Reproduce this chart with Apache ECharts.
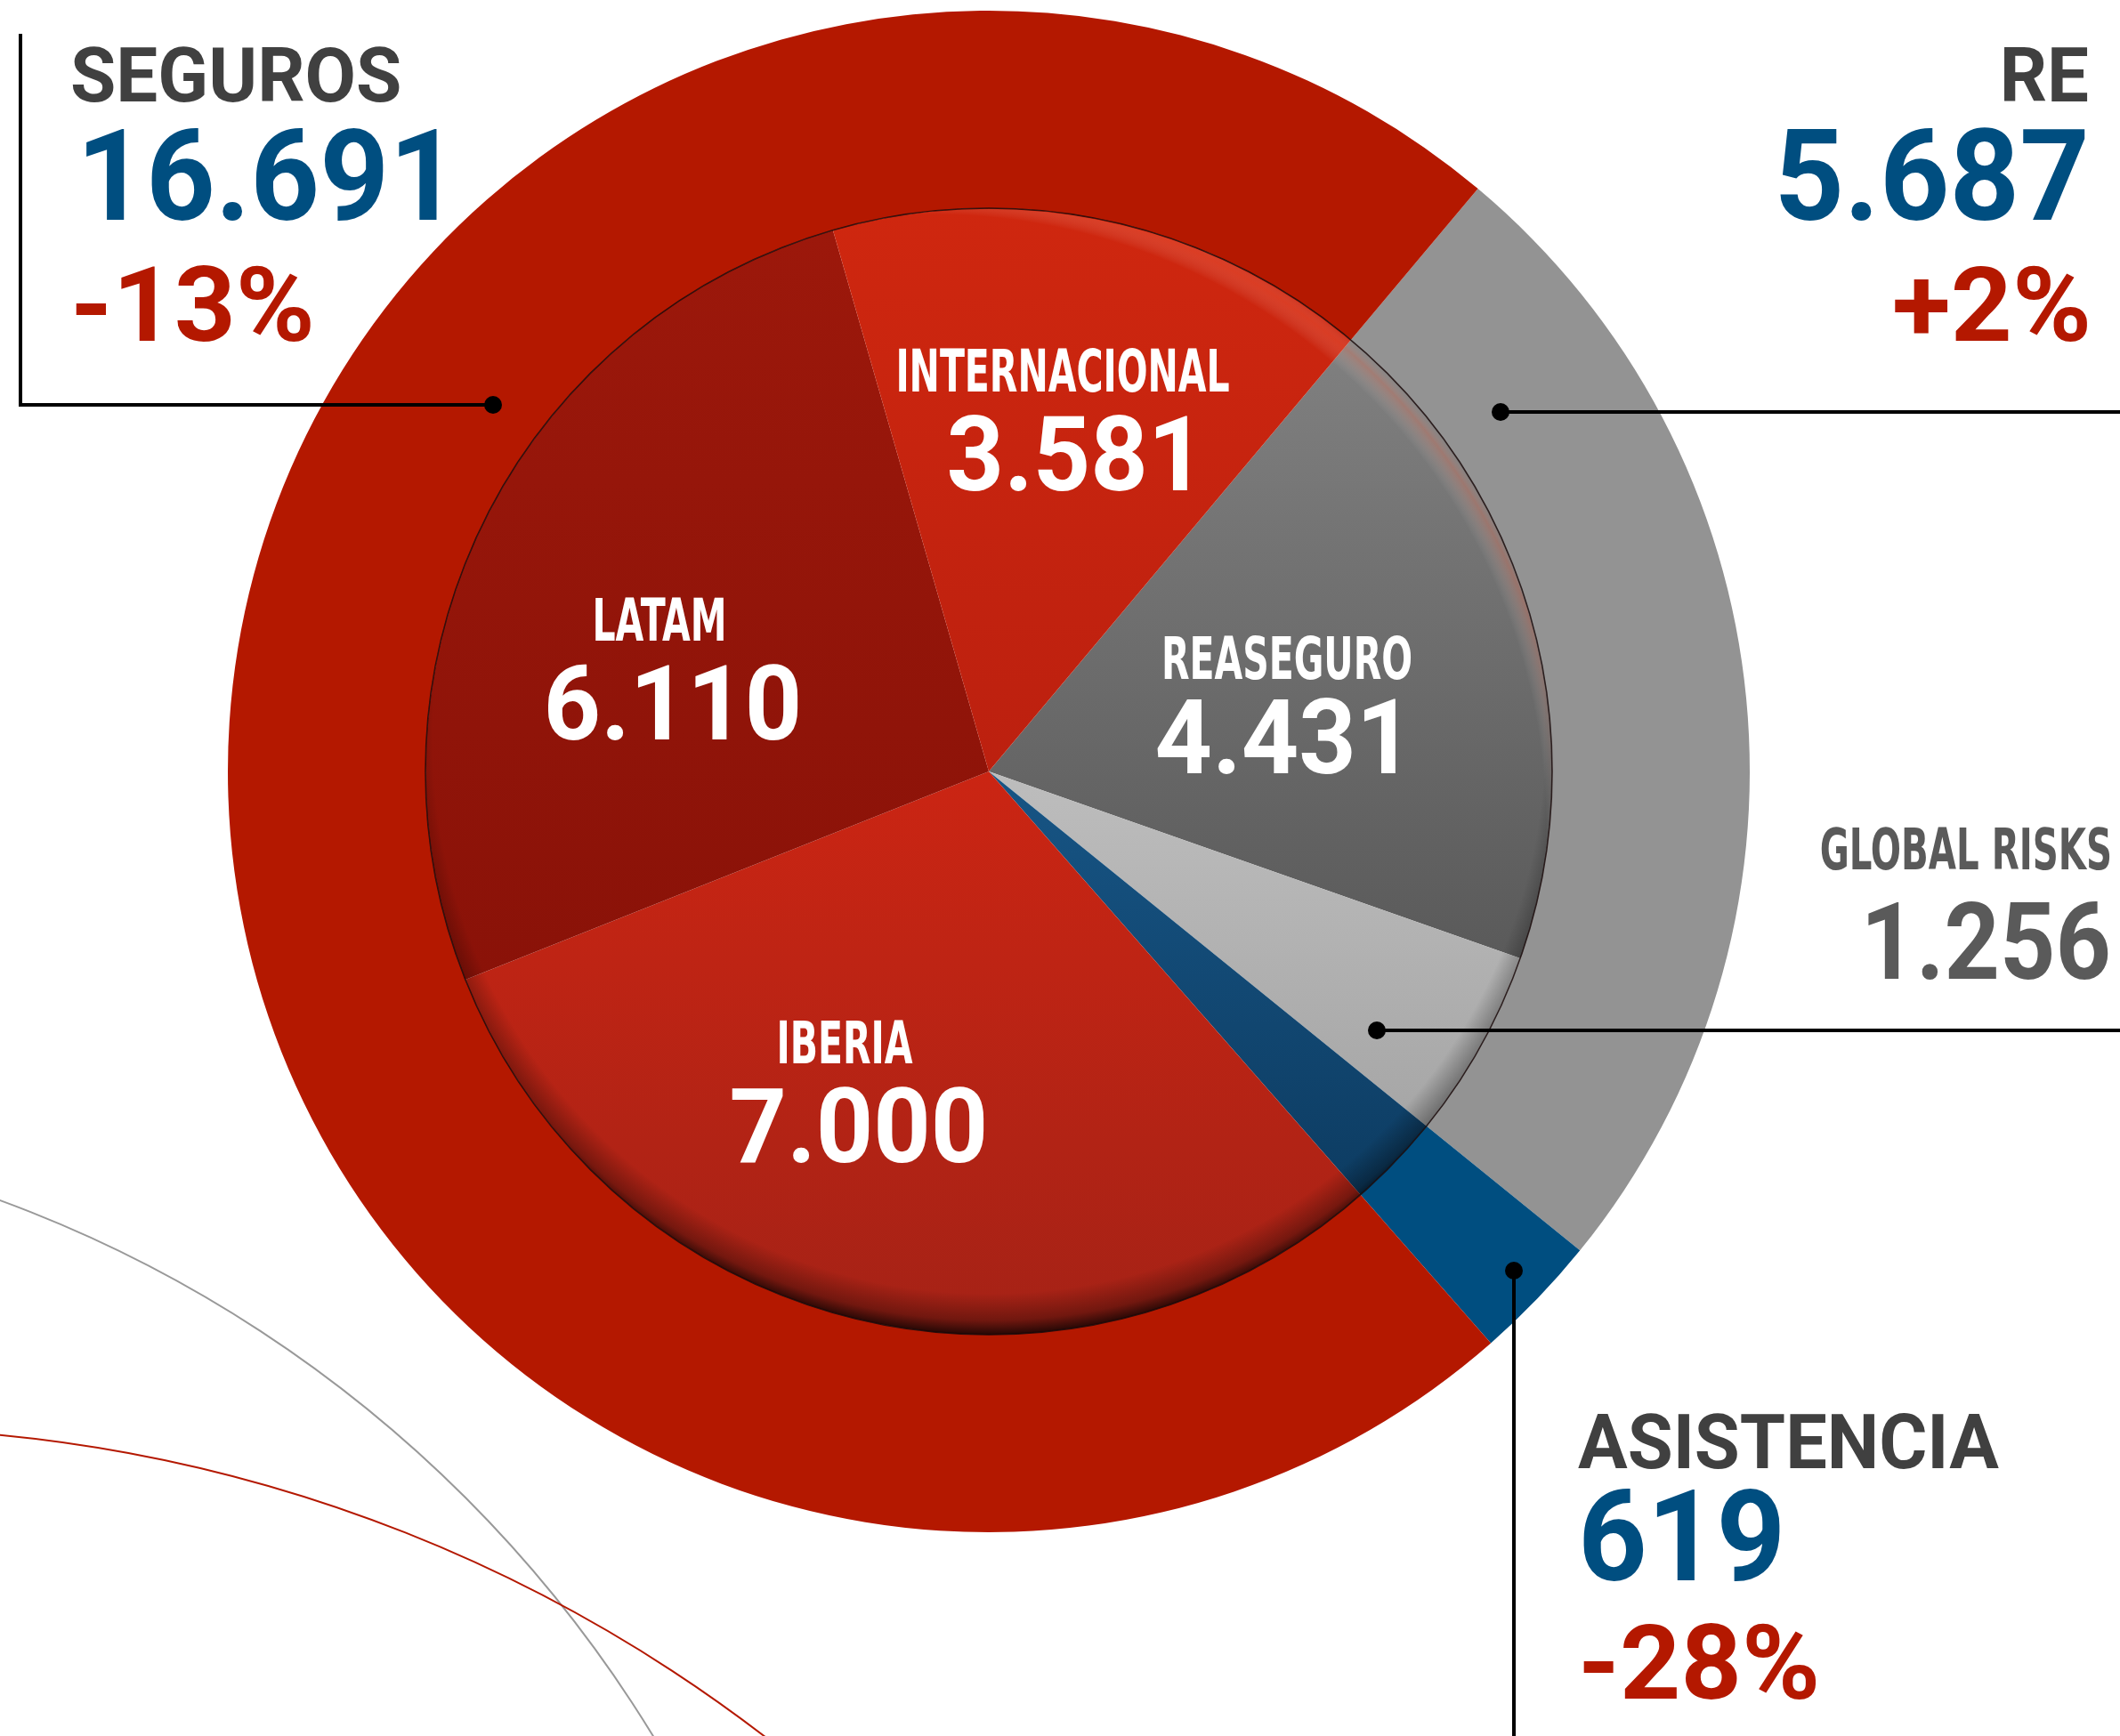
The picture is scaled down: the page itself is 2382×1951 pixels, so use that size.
<!DOCTYPE html>
<html>
<head>
<meta charset="utf-8">
<script src="https://cdn.jsdelivr.net/npm/echarts@6/dist/echarts.min.js"></script>
<style>
  html, body { margin: 0; padding: 0; background: #fff; }
  #chart { width: 2382px; height: 1951px; }
</style>
</head>
<body>
<div id="chart"></div>
<script>
// outer ring: business units (clockwise from RE)
var unitNames = ['RE', 'ASISTENCIA', 'SEGUROS'];
var unitValues = [5687, 619, 16691];
var unitChange = ['+2%', '-28%', '-13%'];

// inner pie: regions (clockwise from REASEGURO)
var regionNames = ['REASEGURO', 'GLOBAL RISKS', 'ASISTENCIA', 'IBERIA', 'LATAM', 'INTERNACIONAL'];
var regionValues = [4431, 1256, 619, 7000, 6110, 3581];

function fmt(v) {
  return String(v).replace(/\B(?=(\d{3})+(?!\d))/g, '.');
}

var CX = 1111, CY = 867;
var R_IN = 633, R_OUT = 855;
var DIN = 'Roboto, "DejaVu Sans", sans-serif';
var DINC = '"DejaVu Sans Condensed", "DejaVu Sans", sans-serif';

var RED = '#b41800', GREY = '#939393', BLUE = '#004e80', DARK = '#404040';

function lin(a, b) {
  return new echarts.graphic.LinearGradient(0, 0, 0, 1, [
    { offset: 0, color: a }, { offset: 1, color: b }
  ]);
}

var unitColors = [GREY, BLUE, RED];
var regionColors = [
  lin('#808080', '#5a5a5a'),
  lin('#bdbdbd', '#a6a6a6'),
  lin('#175585', '#0d3c62'),
  lin('#cb2513', '#a52216'),
  lin('#9c180b', '#8a1208'),
  lin('#cf270f', '#bc200f')
];

// where the inner labels sit: [name x, name y, value x, value y]; null = no label inside
var innerLabelAt = [
  [1446, 746, 1443, 840],
  null,
  null,
  [949, 1178, 965, 1277],
  [741, 703, 756, 802],
  [1194, 423, 1209, 522]
];

var chart = echarts.init(document.getElementById('chart'));

function txt(x, y, s, font, fill, align, sx) {
  return {
    type: 'text', x: x, y: y, z: 10, scaleX: sx || 1, silent: true,
    style: { text: s, font: font, fill: fill, align: align || 'left', verticalAlign: 'middle' }
  };
}

var elements = [
  // decorative arcs
  { type: 'circle', silent: true, z: -1, shape: { cx: -496, cy: 2702, r: 1441 },
    style: { fill: null, stroke: '#999', lineWidth: 2 } },
  { type: 'circle', silent: true, z: -1, shape: { cx: -160, cy: 3277, r: 1672 },
    style: { fill: null, stroke: RED, lineWidth: 2 } },

  // leader lines
  { type: 'polyline', shape: { points: [[23, 38], [23, 455], [554, 455]] },
    style: { stroke: '#000', lineWidth: 4, fill: null }, z: 10 },
  { type: 'circle', shape: { cx: 554, cy: 455, r: 10 }, style: { fill: '#000' }, z: 10 },
  { type: 'polyline', shape: { points: [[1686, 463], [2382, 463]] },
    style: { stroke: '#000', lineWidth: 4, fill: null }, z: 10 },
  { type: 'circle', shape: { cx: 1686, cy: 463, r: 10 }, style: { fill: '#000' }, z: 10 },
  { type: 'polyline', shape: { points: [[1547, 1158], [2382, 1158]] },
    style: { stroke: '#000', lineWidth: 4, fill: null }, z: 10 },
  { type: 'circle', shape: { cx: 1547, cy: 1158, r: 10 }, style: { fill: '#000' }, z: 10 },
  { type: 'polyline', shape: { points: [[1701, 1428], [1701, 1951]] },
    style: { stroke: '#000', lineWidth: 4, fill: null }, z: 10 },
  { type: 'circle', shape: { cx: 1701, cy: 1428, r: 10 }, style: { fill: '#000' }, z: 10 },

  // SEGUROS
  txt(79, 92, unitNames[2], 'bold 86px ' + DIN, DARK, 'left', 0.97),
  txt(86, 211, fmt(unitValues[2]), 'bold 142px ' + DIN, BLUE, 'left', 0.957),
  txt(79, 354, unitChange[2], 'bold 117px ' + DIN, RED, 'left', 1.03),

  // RE
  txt(2347, 92, unitNames[0], 'bold 86px ' + DIN, DARK, 'right', 0.97),
  txt(2348, 211, fmt(unitValues[0]), 'bold 142px ' + DIN, BLUE, 'right', 0.966),
  txt(2350, 354, unitChange[0], 'bold 117px ' + DIN, RED, 'right', 1.03),

  // GLOBAL RISKS
  txt(2373, 960, regionNames[1], 'bold 64px ' + DINC, '#5a5a5a', 'right', 0.7),
  txt(2372, 1070, fmt(regionValues[1]), 'bold 121px ' + DIN, '#5a5a5a', 'right', 0.9),

  // ASISTENCIA
  txt(1773, 1628, unitNames[1], 'bold 86px ' + DIN, DARK, 'left', 0.963),
  txt(1773, 1740, fmt(unitValues[1]), 'bold 142px ' + DIN, BLUE, 'left', 0.955),
  txt(1773, 1880, unitChange[1], 'bold 117px ' + DIN, RED, 'left', 1.02)
];

// inner pie labels
regionNames.forEach(function (n, i) {
  var at = innerLabelAt[i];
  if (!at) return;
  elements.push(txt(at[0], at[1], n, 'bold 66px ' + DINC, '#fff', 'center', 0.69));
  elements.push(txt(at[2], at[3], fmt(regionValues[i]), 'bold 116px ' + DIN, '#fff', 'center', 0.97));
});

var option = {
  backgroundColor: '#fff',
  animation: false,
  series: [
    {
      type: 'pie',
      center: [CX, CY],
      radius: [R_IN, R_OUT],
      startAngle: 50,
      silent: true,
      label: { show: false },
      labelLine: { show: false },
      data: unitNames.map(function (n, i) {
        return { name: n, value: unitValues[i], itemStyle: { color: unitColors[i] } };
      })
    },
    {
      type: 'pie',
      center: [CX, CY],
      radius: [0, R_IN],
      startAngle: 50,
      silent: true,
      label: { show: false },
      labelLine: { show: false },
      data: regionNames.map(function (n, i) {
        return { name: n, value: regionValues[i], itemStyle: { color: regionColors[i] } };
      })
    },
    {
      // shading of the inner pie rim, heavier towards the bottom
      type: 'pie',
      center: [CX, CY],
      radius: [0, R_IN],
      silent: true,
      label: { show: false },
      labelLine: { show: false },
      itemStyle: {
        borderColor: 'rgba(25,8,8,0.85)',
        borderWidth: 1.5,
        color: new echarts.graphic.RadialGradient(0.5, 0.47, 0.53, [
          { offset: 0, color: 'rgba(0,0,0,0)' },
          { offset: 0.93, color: 'rgba(0,0,0,0)' },
          { offset: 0.975, color: 'rgba(0,0,0,0.32)' },
          { offset: 1, color: 'rgba(0,0,0,0.8)' }
        ])
      },
      data: [{ name: 'rim', value: 1 }]
    },
    {
      // light catching the top-right rim
      type: 'pie',
      center: [CX, CY],
      radius: [0, R_IN - 1],
      silent: true,
      label: { show: false },
      labelLine: { show: false },
      itemStyle: {
        color: new echarts.graphic.RadialGradient(0.45, 0.55, 0.58, [
          { offset: 0, color: 'rgba(255,255,255,0)' },
          { offset: 0.94, color: 'rgba(255,255,255,0)' },
          { offset: 0.97, color: 'rgba(255,120,90,0.28)' },
          { offset: 0.99, color: 'rgba(255,255,255,0)' },
          { offset: 1, color: 'rgba(255,255,255,0)' }
        ])
      },
      data: [{ name: 'gloss', value: 1 }]
    }
  ],
  graphic: { elements: elements }
};

chart.setOption(option);
</script>
</body>
</html>
